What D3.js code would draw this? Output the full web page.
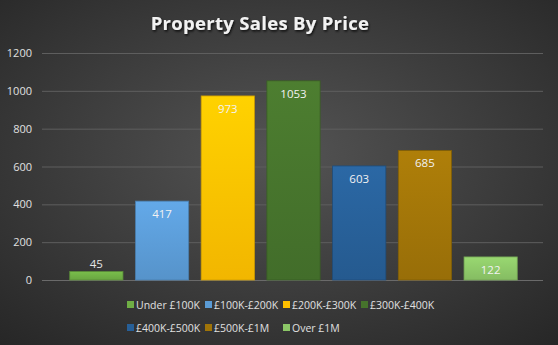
<!DOCTYPE html>
<html><head><meta charset="utf-8">
<script src="https://cdn.jsdelivr.net/npm/d3@7"></script>
<style>html,body{margin:0;padding:0;background:#333;}svg{display:block;}</style>
</head><body>
<script>
const title = "Property Sales By Price";
const categories = ["Under £100K","£100K-£200K","£200K-£300K","£300K-£400K","£400K-£500K","£500K-£1M","Over £1M"];
const values = [45, 417, 973, 1053, 603, 685, 122];
const colors = ["#6fae45","#5b9bd5","#ffc000","#46732c","#275f97","#a07408","#8cc667"];
const yTicks = [0,200,400,600,800,1000,1200];

const W = 558, H = 345;
const svg = d3.select("body").append("svg").attr("width", W).attr("height", H);
const defs = svg.append("defs");
const bg = defs.append("radialGradient").attr("id","bg").attr("cx","50%").attr("cy","45%").attr("r","75%");
bg.append("stop").attr("offset","0%").attr("stop-color","#545454");
bg.append("stop").attr("offset","100%").attr("stop-color","#262626");
svg.append("rect").attr("width",W).attr("height",H).attr("fill","url(#bg)");

const sh = defs.append("filter").attr("id","sh").attr("x","-10%").attr("y","-30%").attr("width","120%").attr("height","160%");
sh.append("feDropShadow").attr("dx",1).attr("dy",1.5).attr("stdDeviation",1.2).attr("flood-color","#000").attr("flood-opacity",0.8);

colors.forEach((c,i)=>{
  const g = defs.append("linearGradient").attr("id","g"+i).attr("x1",0).attr("y1",0).attr("x2",0).attr("y2",1);
  g.append("stop").attr("offset","0%").attr("stop-color",d3.color(c).brighter(0.25));
  g.append("stop").attr("offset","100%").attr("stop-color",d3.color(c).darker(0.15));
});

const y = d3.scaleLinear().domain([0,1200]).range([280,53]);
const x = d3.scaleBand().domain(categories).range([63.5,523.5]).paddingInner(0.19).paddingOuter(0.095);

svg.append("text").attr("x",260).attr("y",30).attr("text-anchor","middle")
  .attr("font-family","'Open Sans', sans-serif").attr("font-weight","bold").attr("font-size",18.5)
  .attr("letter-spacing",0.3)
  .attr("fill","#f2f2f2").attr("filter","url(#sh)").text(title);

const yAxis = d3.axisLeft(y).tickValues(yTicks).tickFormat(d3.format("d")).tickSize(-(543-42)).tickPadding(10);
const ga = svg.append("g").attr("transform","translate(42,0)").call(yAxis);
ga.select(".domain").remove();
ga.selectAll(".tick line").attr("stroke","#5e5e5e").attr("stroke-width",1);
ga.selectAll(".tick text").attr("fill","#e0e0e0").attr("font-family","'Open Sans', sans-serif").attr("font-size",11);
ga.selectAll(".tick").filter(d=>d===0).select("line").attr("stroke","#6a6a6a");

svg.selectAll("rect.bar").data(values).join("rect").attr("class","bar")
  .attr("x",(d,i)=>x(categories[i])).attr("width",x.bandwidth())
  .attr("y",d=>y(d)).attr("height",d=>y(0)-y(d))
  .attr("fill",(d,i)=>`url(#g${i})`)
  .attr("stroke",(d,i)=>d3.color(colors[i]).darker(0.6)).attr("stroke-width",0.8);

svg.selectAll("text.lbl").data(values).join("text").attr("class","lbl")
  .attr("x",(d,i)=>x(categories[i])+x.bandwidth()/2)
  .attr("y",d=> (y(0)-y(d) < 20) ? y(d)-3 : y(d)+17)
  .attr("text-anchor","middle").attr("font-family","'Open Sans', sans-serif").attr("font-size",11.5)
  .attr("fill",(d,i)=> (y(0)-y(d) < 20) ? "#e6e6e6" : "#f2f2f2").text(d=>d);

const legX = [127,205,283,361];
const lg = svg.selectAll("g.leg").data(categories).join("g").attr("class","leg")
  .attr("transform",(d,i)=>`translate(${legX[i%4]},${i<4?305:328})`);
lg.append("rect").attr("x",0).attr("y",-4).attr("width",7).attr("height",7).attr("fill",(d,i)=>colors[i]);
lg.append("text").attr("x",9).attr("y",4).attr("font-family","'Open Sans', sans-serif").attr("font-size",10.5)
  .attr("fill","#e0e0e0").text(d=>d);
</script>
</body></html>
